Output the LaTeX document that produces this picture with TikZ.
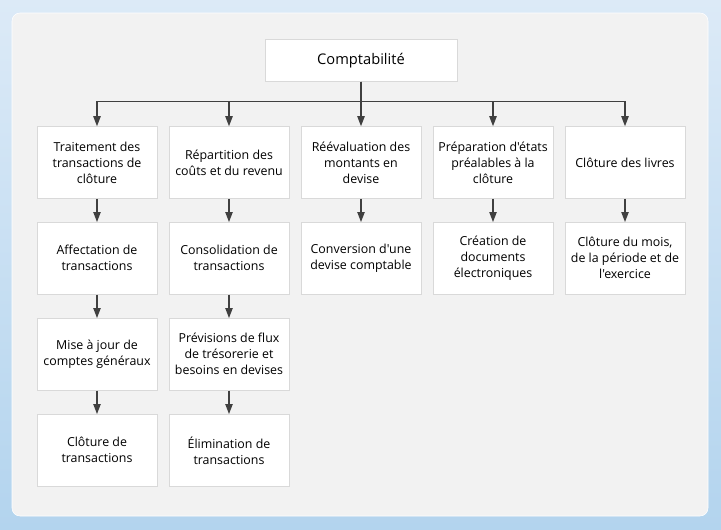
\documentclass[tikz,border=0pt]{standalone}
\usepackage{fontspec}
\setmainfont{Open Sans}[Ligatures=TeXOff]
\usetikzlibrary{arrows.meta}
\definecolor{bgtop}{HTML}{DCEAF7}
\definecolor{bgbot}{HTML}{B3D4EE}
\definecolor{panel}{HTML}{F2F2F2}
\definecolor{boxline}{HTML}{D9D9D9}
\definecolor{arrowgray}{HTML}{404040}

\begin{document}
\begin{tikzpicture}[x=0.75pt,y=-0.75pt,
    box/.style={draw=boxline,fill=white,minimum width=90pt,minimum height=54pt,
      align=center,inner sep=1pt,font=\fontsize{9.3}{12}\selectfont},
    link/.style={draw=arrowgray,line width=0.9pt,-{Triangle[length=7.5pt,width=5.5pt]}}]
      \useasboundingbox (0,0) rectangle (721,529);
      \shade[top color=bgtop,bottom color=bgbot] (0,0) rectangle (721,529);
      \draw[white,fill=panel,rounded corners=6pt] (12,13) rectangle (708,516);
      % root
      \node[box,minimum width=144pt,minimum height=31.5pt,font=\fontsize{11}{13}\selectfont] (compta) at (361,60.5) {Comptabilit\'e};
      \coordinate (bus) at (361,101.7);
      % first row
      \node[box] (trait) at (97,162.5) {Traitement des\\transactions de\\cl\^oture};
      \node[box] (repart) at (229,162.5) {R\'epartition des\\co\^uts et du revenu};
      \node[box] (reeval) at (361,162.5) {R\'e\'evaluation des\\montants en\\devise};
      \node[box] (prep) at (493,162.5) {Pr\'eparation d'\'etats\\pr\'ealables \`a la\\cl\^oture};
      \node[box] (livres) at (625,162.5) {Cl\^oture des livres};
      % second row
      \node[box] (affect) at (97,258.3) {Affectation de\\transactions};
      \node[box] (consol) at (229,258.3) {Consolidation de\\transactions};
      \node[box] (conv) at (361,258.3) {Conversion d'une\\devise comptable};
      \node[box] (docs) at (493,258.3) {Cr\'eation de\\documents\\\'electroniques};
      \node[box] (mois) at (625,258.3) {Cl\^oture du mois,\\de la p\'eriode et de\\l'exercice};
      % third row
      \node[box] (maj) at (97,354.3) {Mise \`a jour de\\comptes g\'en\'eraux};
      \node[box] (flux) at (229,354.3) {Pr\'evisions de flux\\de tr\'esorerie et\\besoins en devises};
      % fourth row
      \node[box] (clot) at (97,450.3) {Cl\^oture de\\transactions};
      \node[box] (elim) at (229,450.3) {\'Elimination de\\transactions};
      % connectors
      \draw[link] (compta.south) -- (bus) -| (trait.north);
      \draw[link] (compta.south) -- (bus) -| (repart.north);
      \draw[link] (compta.south) -- (reeval.north);
      \draw[link] (compta.south) -- (bus) -| (prep.north);
      \draw[link] (compta.south) -- (bus) -| (livres.north);
      \draw[link] (trait) -- (affect);
      \draw[link] (affect) -- (maj);
      \draw[link] (maj) -- (clot);
      \draw[link] (repart) -- (consol);
      \draw[link] (consol) -- (flux);
      \draw[link] (flux) -- (elim);
      \draw[link] (reeval) -- (conv);
      \draw[link] (prep) -- (docs);
      \draw[link] (livres) -- (mois);
\end{tikzpicture}
\end{document}
